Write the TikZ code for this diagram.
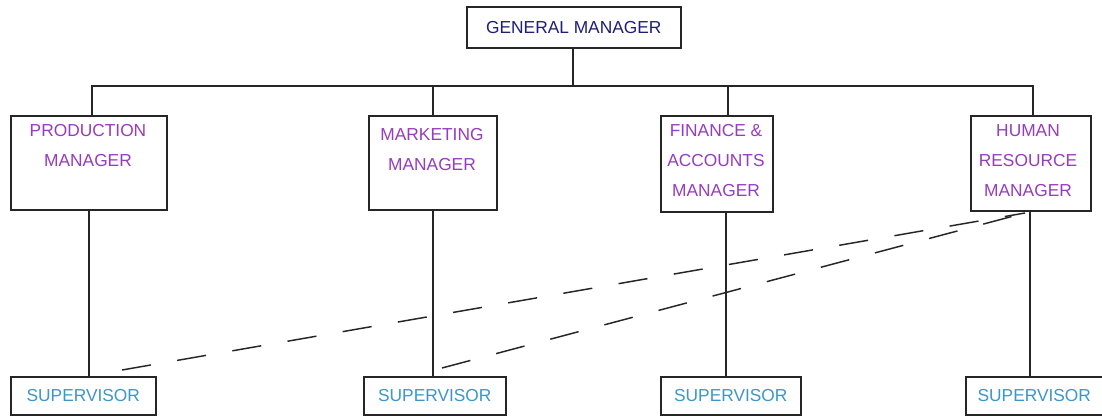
\documentclass[tikz,border=0pt]{standalone}
\usepackage{fontspec}
\setmainfont{Liberation Sans}
\begin{document}
\begin{tikzpicture}[x=0.75pt,y=-0.75pt,
  box/.style={draw=black!85,line width=1.2pt,fill=white,inner sep=0pt,anchor=north west},
  gmtxt/.style={text=gmcol,font=\fontsize{13}{15}\selectfont,inner sep=0pt},
  mtxt/.style={text=mcol,font=\fontsize{13}{22.5}\selectfont,align=center,inner sep=0pt,anchor=north},
  stxt/.style={text=scol,font=\fontsize{13}{15}\selectfont,inner sep=0pt},
  wire/.style={draw=black!85,line width=1.1pt},
  dash line/.style={draw=black!85,line width=1.1pt,dash pattern=on 22pt off 20pt}]
\definecolor{gmcol}{RGB}{30,30,120}
\definecolor{mcol}{RGB}{150,60,190}
\definecolor{scol}{RGB}{60,150,200}
\useasboundingbox[fill=white] (0,0) rectangle (1102,416);

% general manager
\node[box,minimum width=214*0.75pt,minimum height=41*0.75pt] (gm) at (466,6) {};
\node[gmtxt] (gmt) at (gm.center) {GENERAL MANAGER};

% managers
\node[box,minimum width=156*0.75pt,minimum height=94*0.75pt] (pm) at (10,115) {};
\node[mtxt] (pmt) at (88,124) {PRODUCTION\\MANAGER};
\node[box,minimum width=128*0.75pt,minimum height=94*0.75pt] (mm) at (368,115) {};
\node[mtxt] (mmt) at (432,128) {MARKETING\\MANAGER};
\node[box,minimum width=112*0.75pt,minimum height=96*0.75pt] (fm) at (660,115) {};
\node[mtxt] (fmt) at (716,124) {FINANCE \&\\ACCOUNTS\\MANAGER};
\node[box,minimum width=120*0.75pt,minimum height=95*0.75pt] (hm) at (970,115) {};
\node[mtxt] (hmt) at (1028,124) {HUMAN\\RESOURCE\\MANAGER};

% supervisors
\node[box,minimum width=145*0.75pt,minimum height=38*0.75pt] (s1) at (10,376) {};
\node[stxt] (s1t) at (s1.center) {SUPERVISOR};
\node[box,minimum width=142*0.75pt,minimum height=38*0.75pt] (s2) at (363,376) {};
\node[stxt] (s2t) at (s2.center) {SUPERVISOR};
\node[box,minimum width=140*0.75pt,minimum height=38*0.75pt] (s3) at (660,376) {};
\node[stxt] (s3t) at (s3.center) {SUPERVISOR};
\node[box,minimum width=137*0.75pt,minimum height=38*0.75pt] (s4) at (965,376) {};
\node[stxt] (s4t) at (s4.center) {SUPERVISOR};

% bus
\coordinate (bus) at (573,86);
\draw[wire] (gm.south -| bus) -- (bus);
\draw[wire] (pm.north -| 92,0) |- (bus) -| (hm.north -| 1033,0);
\draw[wire] (mm.north -| 433,0) -- (433,86);
\draw[wire] (fm.north -| 728,0) -- (728,86);

% manager to supervisor
\draw[wire] (pm.south -| 89,0) -- (s1.north -| 89,0);
\draw[wire] (mm.south -| 433,0) -- (s2.north -| 433,0);
\draw[wire] (fm.south -| 726,0) -- (s3.north -| 726,0);
\draw[wire] (hm.south -| 1030,0) -- (s4.north -| 1030,0);

% dashed lines
\coordinate (a1) at (122,370);
\coordinate (b1) at (442,368);
\coordinate (hr) at (1025,213);
\draw[dash line] (a1) -- (hr);
\draw[dash line] (b1) -- (hr);
\end{tikzpicture}
\end{document}
